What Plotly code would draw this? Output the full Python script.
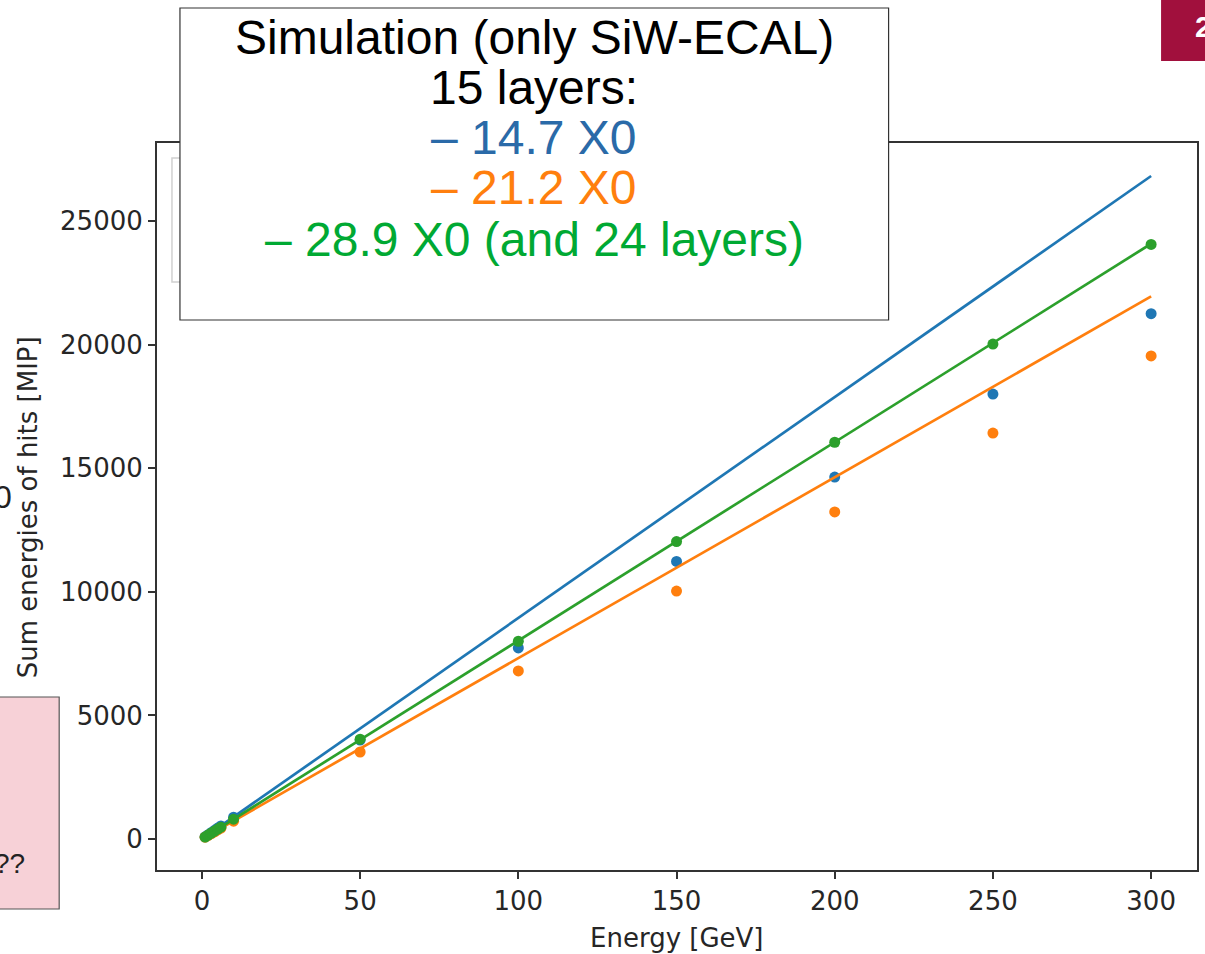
import plotly.graph_objects as go

# ---------------- data ----------------
energy = [1, 2, 3, 4, 5, 6, 10, 50, 100, 150, 200, 250, 300]
sum_14_7 = [88, 176, 264, 352, 440, 528, 880, 4000, 7730, 11230, 14640, 18000, 21250]
sum_21_2 = [73, 146, 219, 292, 365, 438, 720, 3520, 6800, 10030, 13230, 16420, 19540]
sum_28_9 = [80, 160, 240, 320, 400, 480, 800, 4040, 8000, 12030, 16050, 20020, 24050]

fit_energy = [1, 300]
fit_14_7 = [89, 26820]
fit_21_2 = [73, 21950]
fit_28_9 = [80, 24080]

x_ticks = [0, 50, 100, 150, 200, 250, 300]
y_ticks = [0, 5000, 10000, 15000, 20000, 25000]

box_lines = ["Simulation (only SiW-ECAL)", "15 layers:", "\u2013 14.7 X0", "\u2013 21.2 X0",
             "\u2013 28.9 X0 (and 24 layers)"]

# ---------------- style ----------------
W, H = 1205, 954
L, R, T, B = 157, 1199, 143, 870   # plot area in page pixels
def px(x):
    return (x - L) / (R - L)
def py(y):
    return (B - y) / (B - T)

C_BLUE, C_ORANGE, C_GREEN = "#1f77b4", "#ff7f0e", "#2ca02c"
MPL_FONT = dict(family="DejaVu Sans", size=26, color="#262626")

fig = go.Figure()
for xs, ys, fx, fy, c in [
    (energy, sum_14_7, fit_energy, fit_14_7, C_BLUE),
    (energy, sum_21_2, fit_energy, fit_21_2, C_ORANGE),
    (energy, sum_28_9, fit_energy, fit_28_9, C_GREEN),
]:
    fig.add_trace(go.Scatter(x=xs, y=ys, mode="markers",
                             marker=dict(color=c, size=11, line=dict(width=0)),
                             showlegend=False, hoverinfo="skip"))
    fig.add_trace(go.Scatter(x=fx, y=fy, mode="lines",
                             line=dict(color=c, width=2.7),
                             showlegend=False, hoverinfo="skip"))

axis_common = dict(showgrid=False, zeroline=False, showline=True, mirror=True,
                   linecolor="#333333", linewidth=2, ticks="outside", ticklen=7,
                   tickwidth=1.5, tickcolor="#333333", tickfont=MPL_FONT)
fig.update_xaxes(range=[-14.2, 314.5], tickvals=x_ticks,
                 ticktext=[str(v) for v in x_ticks], **axis_common)
fig.update_yaxes(range=[-1254, 28155], tickvals=y_ticks,
                 ticktext=[str(v) for v in y_ticks], **axis_common)

shapes = []
annotations = []

# matplotlib legend box hidden behind the slide text box
shapes.append(dict(type="rect", xref="paper", yref="paper", layer="above",
                   x0=px(172), x1=px(480), y0=py(282), y1=py(158),
                   line=dict(color="#d0d0d0", width=1.5), fillcolor="white"))
# slide text box
shapes.append(dict(type="rect", xref="paper", yref="paper", layer="above",
                   x0=px(180), x1=px(890), y0=py(320), y1=py(8),
                   line=dict(color="#333333", width=1.2), fillcolor="white"))
# pink box on the left
shapes.append(dict(type="rect", xref="paper", yref="paper", layer="above",
                   x0=px(-5), x1=px(59), y0=py(909), y1=py(697),
                   line=dict(color="#555555", width=1.2), fillcolor="#f7d1d7"))
# red box top right
shapes.append(dict(type="rect", xref="paper", yref="paper", layer="above",
                   x0=px(1163), x1=px(1215), y0=py(61), y1=py(-5),
                   line=dict(width=0), fillcolor="#a1103d"))

box_colors = ["black", "black", "#2a6aa8", "#ff7f0e", "#00a933"]
box_y = [37, 87, 137, 188, 239]
for t, c, yy in zip(box_lines, box_colors, box_y):
    annotations.append(dict(text=t, xref="paper", yref="paper", x=px(535), y=py(yy),
                            xanchor="center", yanchor="middle", showarrow=False,
                            font=dict(family="Liberation Sans", size=48, color=c)))

annotations.append(dict(text="Energy [GeV]", xref="paper", yref="paper", x=px(678), y=py(938),
                        xanchor="center", yanchor="middle", showarrow=False, font=MPL_FONT))
annotations.append(dict(text="Sum energies of hits [MIP]", xref="paper", yref="paper",
                        x=px(28), y=py(507), textangle=-90,
                        xanchor="center", yanchor="middle", showarrow=False, font=MPL_FONT))
annotations.append(dict(text="??", xref="paper", yref="paper", x=px(27), y=py(863),
                        xanchor="right", yanchor="middle", showarrow=False,
                        font=dict(family="Liberation Sans", size=28, color="#222222")))
annotations.append(dict(text="0", xref="paper", yref="paper", x=px(14), y=py(497),
                        xanchor="right", yanchor="middle", showarrow=False,
                        font=dict(family="Liberation Sans", size=32, color="#222222")))
annotations.append(dict(text="<b>2</b>", xref="paper", yref="paper", x=px(1195), y=py(26),
                        xanchor="left", yanchor="middle", showarrow=False,
                        font=dict(family="Liberation Sans", size=30, color="white")))

fig.update_layout(width=W, height=H,
                  margin=dict(l=L, r=W - R, t=T, b=H - B),
                  plot_bgcolor="white", paper_bgcolor="white",
                  shapes=shapes, annotations=annotations, showlegend=False)

fig.write_html("out.html", config={"displayModeBar": False},
               post_script="document.body.style.margin='0';"
                           "document.body.style.overflow='hidden';")
